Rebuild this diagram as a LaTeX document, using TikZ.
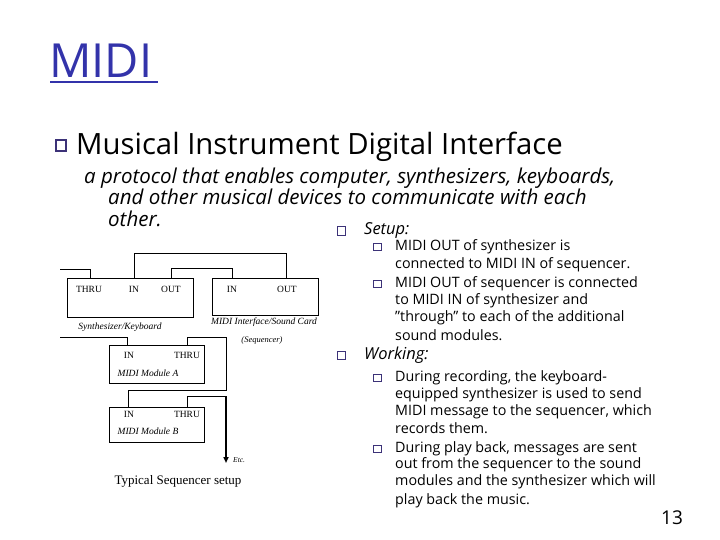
\documentclass[tikz,border=0pt]{standalone}
\usepackage{fontspec}
\setmainfont{Open Sans}
\newfontfamily\dfont{Liberation Serif}
\usetikzlibrary{arrows.meta}
\definecolor{titleblue}{RGB}{51,51,170}
\definecolor{bulcol}{RGB}{60,50,120}
\tikzset{
  bul/.style={draw=bulcol,line width=1pt,fill=white},
  ln/.style={line width=0.8pt},
  lab/.style={font=\dfont\fontsize{9.5}{10}\selectfont,inner sep=0pt},
  ilab/.style={font=\dfont\itshape\fontsize{9.5}{10}\selectfont,inner sep=0pt},
  rt/.style={anchor=west,inner sep=0pt,font=\fontsize{14.3}{16}\selectfont},
  para/.style={anchor=base west,inner sep=0pt,font=\itshape\fontsize{20.5}{22}\selectfont},
}
\begin{document}
\begin{tikzpicture}[x=1pt,y=-1pt]
\useasboundingbox (0,0) rectangle (720,540);
% title
\node[anchor=base west,inner sep=0pt,text=titleblue,font=\fontsize{47}{50}\selectfont] (title) at (49,78) {MIDI};
\draw[titleblue,line width=2.5pt] (50,82) -- (158,82);
% main bullet
\draw[bul,line width=1.3pt] (56,140) rectangle (66,151);
\node[anchor=base west,inner sep=0pt,font=\fontsize{29.3}{32}\selectfont] (mi) at (76,155) {Musical Instrument Digital Interface};
\node[para] (p1) at (84,184) {a protocol that enables computer, synthesizers, keyboards,};
\node[para] (p2) at (108,205) {and other musical devices to communicate with each};
\node[para] (p3) at (108,226) {other.};
% right column
\draw[bul] (337,227) rectangle (345,235);
\node[rt,font=\itshape\fontsize{16.5}{18}\selectfont] (setup) at (364,231) {Setup:};
\foreach \y in {243,280} \draw[bul] (373,\y) rectangle (381,\y+7);
\node[rt] (s1) at (395,247) {MIDI OUT of synthesizer is};
\node[rt] (s2) at (395,265) {connected to MIDI IN of sequencer.};
\node[rt] (s3) at (395,284) {MIDI OUT of sequencer is connected};
\node[rt] (s4) at (395,301) {to MIDI IN of synthesizer and};
\node[rt] (s5) at (395,318) {"through" to each of the additional};
\node[rt] (s6) at (395,335) {sound modules.};
\draw[bul] (337,351) rectangle (345,359);
\node[rt,font=\itshape\fontsize{16.5}{18}\selectfont] (work) at (364,355) {Working:};
\foreach \y in {374,445} \draw[bul] (373,\y) rectangle (381,\y+7);
\node[rt] (w1) at (395,378) {During recording, the keyboard-};
\node[rt] (w2) at (395,395) {equipped synthesizer is used to send};
\node[rt] (w3) at (395,412) {MIDI message to the sequencer, which};
\node[rt] (w4) at (395,428) {records them.};
\node[rt] (w5) at (395,449) {During play back, messages are sent};
\node[rt] (w6) at (395,465) {out from the sequencer to the sound};
\node[rt] (w7) at (395,482) {modules and the synthesizer which will};
\node[rt] (w8) at (395,501) {play back the music.};
\node[inner sep=0pt,font=\fontsize{19}{20}\selectfont] (pg) at (672,518) {13};
% diagram boxes
\draw[ln] (67,278) rectangle (193,317);
\draw[ln] (212,278) rectangle (318,315);
\draw[ln] (109,345) rectangle (204,383);
\draw[ln] (109,407) rectangle (204,442);
\node[lab] (sthru) at (89,289) {THRU};
\node[lab] (sin) at (134,289) {IN};
\node[lab] (sout) at (171,289) {OUT};
\node[lab] (iin) at (232,289) {IN};
\node[lab] (iout) at (287,289) {OUT};
\node[ilab] (slab) at (120,327) {Synthesizer/Keyboard};
\node[ilab] (ilab1) at (264,322) {MIDI Interface/Sound Card};
\node[ilab,font=\dfont\itshape\fontsize{8.5}{9}\selectfont] (ilab2) at (262,340) {(Sequencer)};
\node[lab] (ain) at (129,355) {IN};
\node[lab] (athru) at (187,355) {THRU};
\node[ilab] (moda) at (148,373) {MIDI Module A};
\node[lab] (bin) at (129,414) {IN};
\node[lab] (bthru) at (187,414) {THRU};
\node[ilab] (modb) at (148,431) {MIDI Module B};
\node[ilab,font=\dfont\itshape\fontsize{7.5}{8}\selectfont,anchor=west] (etc) at (233,460) {Etc.};
\node[inner sep=0pt,font=\dfont\fontsize{13}{14}\selectfont] (cap) at (178,481) {Typical Sequencer setup};
% connectors
\coordinate (l1) at (60,269);
\coordinate (l2) at (60,337);
\draw[ln] (l1) -| (90,278);
\draw[ln] (134,278) |- (286,253) -- (286,278);
\draw[ln] (171,278) |- (232,268) -- (232,278);
\draw[ln] (l2) -| (127,345);
\draw[ln] (187,345) |- (226,337) |- (128,390) -- (128,407);
\coordinate (etcend) at (226,463);
\draw[ln] (187,407) |- (226,396);
\draw[line width=1.6pt,-{Triangle[length=6pt,width=5pt]}] (226,396) -- (etcend);
\end{tikzpicture}
\end{document}
